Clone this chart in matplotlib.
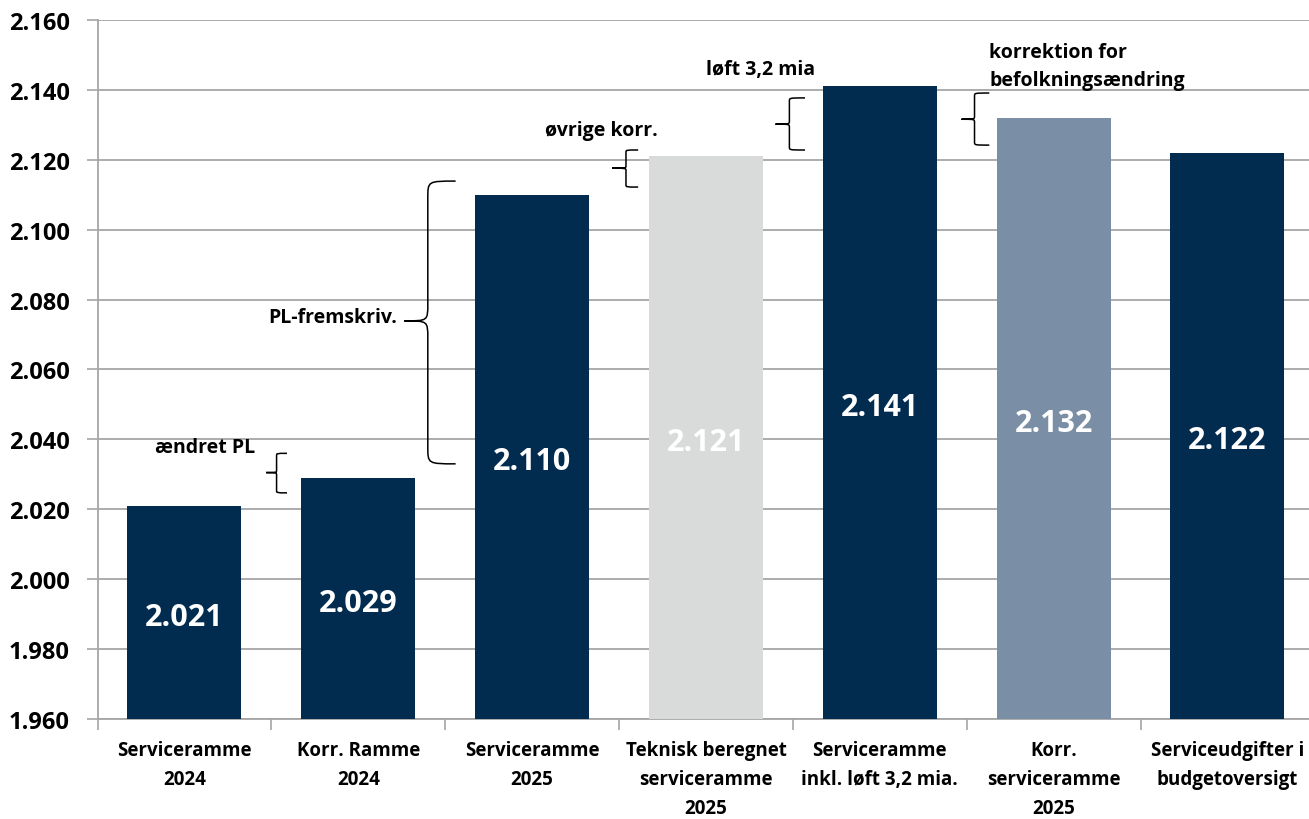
import matplotlib
matplotlib.use("Agg")
import matplotlib.pyplot as plt
from matplotlib.path import Path
from matplotlib.patches import PathPatch

categories = ["Serviceramme\n2024", "Korr. Ramme\n2024", "Serviceramme\n2025",
              "Teknisk beregnet\nserviceramme\n2025", "Serviceramme\ninkl. løft 3,2 mia.",
              "Korr.\nserviceramme\n2025", "Serviceudgifter i\nbudgetoversigt"]
values = [2.021, 2.029, 2.110, 2.121, 2.141, 2.132, 2.122]
value_labels = ["2.021", "2.029", "2.110", "2.121", "2.141", "2.132", "2.122"]
yticks = [1.960, 1.980, 2.000, 2.020, 2.040, 2.060, 2.080, 2.100, 2.120, 2.140, 2.160]
ytick_labels = ["1.960", "1.980", "2.000", "2.020", "2.040", "2.060", "2.080",
                "2.100", "2.120", "2.140", "2.160"]

NAVY = "#022C4F"
LGRAY = "#D9DADA"
STEEL = "#7A8FA6"
colors = [NAVY, NAVY, NAVY, LGRAY, NAVY, STEEL, NAVY]
GRID = "#A6A6A6"

plt.rcParams['font.family'] = ['Open Sans', 'DejaVu Sans']
plt.rcParams['font.weight'] = 'bold'

fig = plt.figure(figsize=(13.09, 8.20), dpi=100)
ax = fig.add_axes([0.0745, 0.1220, 1.0041 - 0.0745, 0.9744 - 0.1220])

x = list(range(len(values)))
base = yticks[0]
ax.bar(x, [v - base for v in values], bottom=base, width=0.656, color=colors, zorder=3)

for xi, v, lab in zip(x, values, value_labels):
    ax.text(xi, (v + base) / 2 - 0.0012, lab, ha='center', va='center', color='white',
            fontsize=22, fontweight='bold', zorder=4)

ax.set_xlim(-0.5, len(values) - 0.5)
ax.set_ylim(yticks[0], yticks[-1])
ax.set_yticks(yticks)
ax.set_yticklabels(ytick_labels, fontsize=17, fontweight='bold')
ax.set_xticks(x)
ax.set_xticklabels(categories, fontsize=13.5, fontweight='bold', linespacing=1.6, va='top')
ax.set_xticks([i - 0.5 for i in range(len(values) + 1)], minor=True)
ax.tick_params(axis='x', which='major', length=0, pad=15)
ax.tick_params(axis='x', which='minor', length=8, color=GRID, width=1.2)
ax.tick_params(axis='y', length=8, color=GRID, width=1.2, pad=12)
ax.yaxis.grid(True, color=GRID, linewidth=1.3, zorder=0)
ax.set_axisbelow(True)
for s in ['top', 'right']:
    ax.spines[s].set_visible(False)
for s in ['left', 'bottom']:
    ax.spines[s].set_color(GRID)
    ax.spines[s].set_linewidth(1.3)


def brace(ax, x_tip, x_v, x_end, y_top, y_mid, y_bot):
    dy_t = (y_top - y_mid)
    dy_b = (y_mid - y_bot)
    ct = 0.12 * dy_t
    cb = 0.12 * dy_b
    verts = [
        (x_end, y_top),
        (x_v, y_top), (x_v, y_top), (x_v, y_top - ct),
        (x_v, y_mid + ct),
        (x_v, y_mid), (x_v, y_mid), (x_tip, y_mid),
        (x_v, y_mid), (x_v, y_mid), (x_v, y_mid - cb),
        (x_v, y_bot + cb),
        (x_v, y_bot), (x_v, y_bot), (x_end, y_bot),
    ]
    codes = [Path.MOVETO,
             Path.CURVE4, Path.CURVE4, Path.CURVE4,
             Path.LINETO,
             Path.CURVE4, Path.CURVE4, Path.CURVE4,
             Path.CURVE4, Path.CURVE4, Path.CURVE4,
             Path.LINETO,
             Path.CURVE4, Path.CURVE4, Path.CURVE4]
    ax.add_patch(PathPatch(Path(verts, codes), fill=False, edgecolor='black',
                           linewidth=1.1, zorder=5, clip_on=False))


brace(ax, 0.47, 0.53, 0.59, 2.0360, 2.0305, 2.0247)
brace(ax, 1.265, 1.40, 1.56, 2.1139, 2.0739, 2.0330)
brace(ax, 2.46, 2.54, 2.61, 2.1228, 2.1176, 2.1122)
brace(ax, 3.40, 3.48, 3.57, 2.1377, 2.1302, 2.1228)
brace(ax, 4.47, 4.545, 4.63, 2.1391, 2.1316, 2.1242)

ann_kw = dict(fontsize=14, fontweight='bold', color='black', zorder=6)
ax.text(0.12, 2.0378, "ændret PL", ha='center', va='center', **ann_kw)
ax.text(1.225, 2.0750, "PL-fremskriv.", ha='right', va='center', **ann_kw)
ax.text(2.40, 2.1286, "øvrige korr.", ha='center', va='center', **ann_kw)
ax.text(3.315, 2.1460, "løft 3,2 mia", ha='center', va='center', **ann_kw)
ax.text(4.63, 2.1468, "korrektion for\nbefolkningsændring", ha='left', va='center',
        linespacing=1.5, **ann_kw)

fig.savefig("out.png", dpi=100)
